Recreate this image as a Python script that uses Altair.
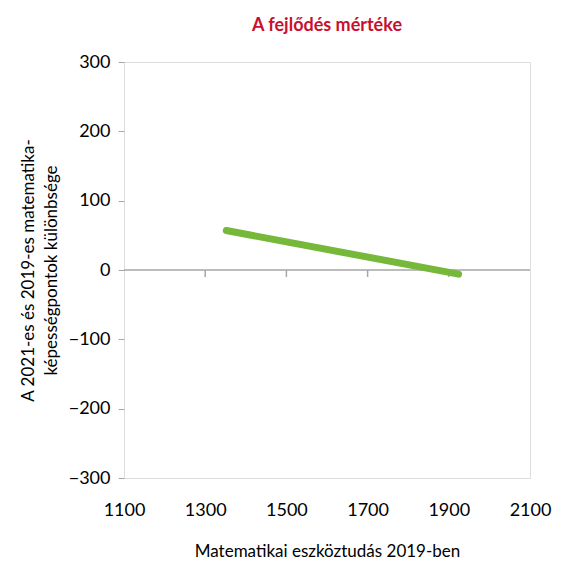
import altair as alt
import pandas as pd

x_vals = [1352, 1924]
y_vals = [57, -6]
x_ticks = [1300, 1500, 1700, 1900]

line_df = pd.DataFrame({"x": x_vals, "y": y_vals})
tick_df = pd.DataFrame({"x": x_ticks, "y0": [0] * 4, "y1": [-10] * 4})
zero_df = pd.DataFrame({"y": [0]})

FONT = "Lato"
GRAY = "#a6a6a6"

xscale = alt.Scale(domain=[1100, 2100], nice=False, zero=False)
yscale = alt.Scale(domain=[-300, 300], nice=False)

base_x = alt.X(
    "x:Q", scale=xscale,
    axis=alt.Axis(values=[1100, 1300, 1500, 1700, 1900, 2100], format="d", domain=False,
                  ticks=False, grid=False, labelPadding=23, labelFontSize=18, labelFont=FONT,
                  labelColor="#000000", title="Matematikai eszköztudás 2019-ben",
                  titleFont=FONT, titleFontSize=17, titleFontWeight="normal",
                  titleColor="#000000", titlePadding=24, labelFlush=False),
)
base_y = alt.Y(
    "y:Q", scale=yscale,
    axis=alt.Axis(values=[-300, -200, -100, 0, 100, 200, 300], format="d", domain=False,
                  ticks=True, tickColor=GRAY, tickSize=6, grid=False, labelFontSize=18,
                  labelFont=FONT, labelColor="#000000", labelPadding=8,
                  labelExpr="replace(datum.label, '-', '–')",
                  title=["A 2021-es és 2019-es matematika-", "képességpontok különbsége"],
                  titleFont=FONT, titleFontSize=17, titleFontWeight="normal",
                  titleLineHeight=23, titleColor="#000000", titlePadding=8, labelFlush=False),
)

zero = alt.Chart(zero_df).mark_rule(color=GRAY, strokeWidth=1.5).encode(
    y=alt.Y("y:Q", scale=yscale), x=alt.value(0), x2=alt.value(406)
)
ticks = alt.Chart(tick_df).mark_rule(color=GRAY, strokeWidth=1.5).encode(
    x=alt.X("x:Q", scale=xscale), y=alt.Y("y0:Q", scale=yscale), y2="y1:Q"
)
line = alt.Chart(line_df).mark_line(color="#76b83a", strokeWidth=7, strokeCap="round").encode(
    x=base_x, y=base_y
)

chart = alt.layer(zero, ticks, line).properties(
    width=406, height=416,
    title=alt.TitleParams("A fejlődés mértéke", color="#c8102e", font=FONT, fontSize=18,
                          fontWeight="bold", anchor="middle", offset=18),
    autosize=alt.AutoSizeParams(type="none"),
    padding={"left": 116, "top": 54, "right": 23, "bottom": 86},
).configure_view(stroke=GRAY, strokeWidth=1.5).configure(background="white")

chart.save("out.html", embed_options={"renderer": "svg", "actions": False})
